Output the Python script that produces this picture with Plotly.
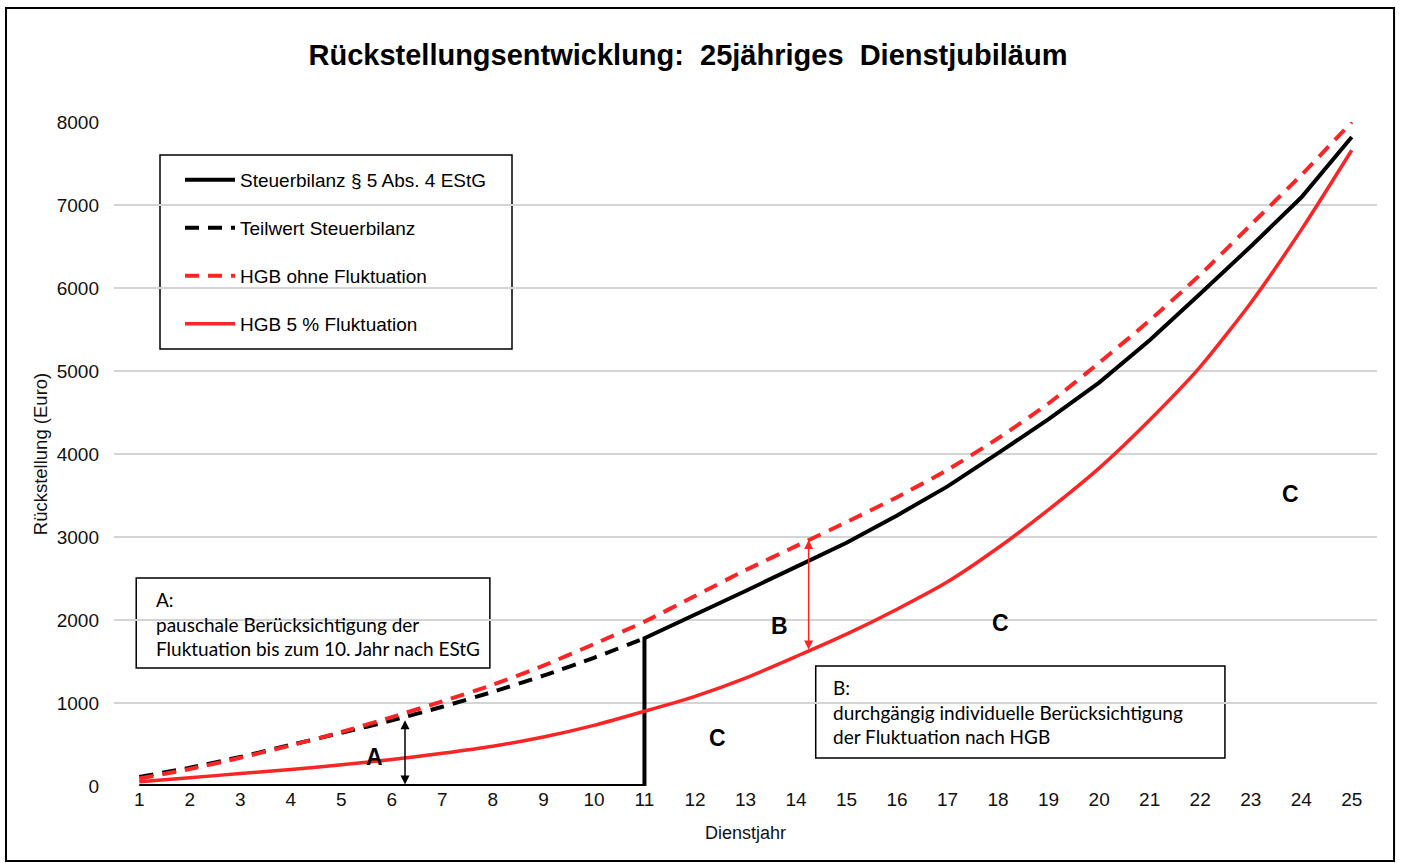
import numpy as np
import plotly.graph_objects as go

years = list(range(1, 26))

# Steuerbilanz § 5 Abs. 4 EStG: 0 until year 11, then values from year 11 to 25
steuer_years = list(range(11, 26))
steuer_values = [1780, 2060, 2350, 2640, 2930, 3260, 3610, 4010, 4420, 4860, 5370, 5930, 6500, 7090, 7820]

# Teilwert Steuerbilanz (years 1..11)
teilwert_years = list(range(1, 12))
teilwert_values = [110, 220, 350, 495, 640, 790, 955, 1135, 1330, 1545, 1780]

# HGB ohne Fluktuation (years 1..25)
hgb_ohne = [90, 205, 340, 490, 650, 830, 1020, 1220, 1450, 1710, 1980, 2290, 2600, 2890, 3180,
            3480, 3810, 4190, 4610, 5100, 5610, 6160, 6760, 7360, 8000]

# HGB 5 % Fluktuation (years 1..25)
hgb_5 = [50, 100, 150, 200, 255, 320, 395, 480, 590, 730, 900, 1080, 1300, 1560, 1830,
         2130, 2460, 2870, 3330, 3830, 4410, 5050, 5820, 6700, 7660]

RED = "#fb2525"
BLACK = "#000000"
FONT = "Liberation Sans, Arial, sans-serif"
BOXFONT = "Lato, Open Sans, sans-serif"

fig = go.Figure()

zero_part_x = [y for y in years if y <= 11]
fig.add_trace(go.Scatter(
    x=zero_part_x + steuer_years,
    y=[0] * len(zero_part_x) + steuer_values,
    mode="lines", name="Steuerbilanz § 5 Abs. 4 EStG",
    line=dict(color=BLACK, width=4), legendgroup="g1", legendrank=1,
))
fig.add_trace(go.Scatter(
    x=teilwert_years, y=teilwert_values, mode="lines", name="Teilwert Steuerbilanz",
    line=dict(color=BLACK, width=4, dash="14px,9px", shape="spline", smoothing=0.6),
    legendgroup="g2", legendrank=2,
))
fig.add_trace(go.Scatter(
    x=years, y=hgb_ohne, mode="lines", name="HGB ohne Fluktuation",
    line=dict(color=RED, width=4, dash="14px,9px", shape="spline", smoothing=0.6),
    legendgroup="g3", legendrank=3,
))
fig.add_trace(go.Scatter(
    x=years, y=hgb_5, mode="lines", name="HGB 5 % Fluktuation",
    line=dict(color=RED, width=3.5, shape="spline", smoothing=0.6),
    legendgroup="g4", legendrank=4,
))

xa = 6.26
a_top = float(np.interp(xa, teilwert_years, teilwert_values))
xb = 14.25
b_top = float(np.interp(xb, years, hgb_ohne))
b_bot = float(np.interp(xb, years, hgb_5))

annotations = [
    dict(x=xa, y=a_top - 40, ax=xa, ay=0, xref="x", yref="y", axref="x", ayref="y",
         text="", showarrow=True, arrowhead=2, arrowside="end+start", arrowsize=1.2,
         arrowwidth=1.5, arrowcolor=BLACK, standoff=0, startstandoff=0),
    dict(x=xb, y=b_top, ax=xb, ay=b_bot, xref="x", yref="y", axref="x", ayref="y",
         text="", showarrow=True, arrowhead=2, arrowside="end+start", arrowsize=1.2,
         arrowwidth=1.5, arrowcolor=RED, standoff=0, startstandoff=0),
]

labels = [("A", 5.66, 349), ("B", 13.68, 1928), ("C", 12.45, 578), ("C", 18.04, 1964), ("C", 23.78, 3518)]
for t, x, y in labels:
    annotations.append(dict(x=x, y=y, xref="x", yref="y", text="<b>%s</b>" % t, showarrow=False,
                            font=dict(family=FONT, size=23, color=BLACK)))

annotations.append(dict(
    x=1.30, y=2506 - 96, xref="x", yref="y", xanchor="left", yanchor="top", align="left",
    text="A:<br>pauschale Berücksichtigung der<br>Fluktuation bis zum 10. Jahr nach EStG",
    showarrow=False, font=dict(family=BOXFONT, size=19, color=BLACK)))
annotations.append(dict(
    x=14.69, y=1446 - 96, xref="x", yref="y", xanchor="left", yanchor="top", align="left",
    text="B:<br>durchgängig individuelle Berücksichtigung<br>der Fluktuation nach HGB",
    showarrow=False, font=dict(family=BOXFONT, size=19, color=BLACK)))


def px_x(p):
    return (p - 114) / 1263


def px_y(p):
    return (786 - p) / 664


shapes = [
    dict(type="rect", xref="x", yref="y", x0=0.94, x1=7.94, y0=1422, y1=2506,
         line=dict(color=BLACK, width=1.5), fillcolor="white", layer="below"),
    dict(type="rect", xref="x", yref="y", x0=14.39, x1=22.49, y0=337, y1=1446,
         line=dict(color=BLACK, width=1.5), fillcolor="white", layer="below"),
    # legend frame
    dict(type="rect", xref="paper", yref="paper", x0=px_x(160), x1=px_x(512), y0=px_y(349), y1=px_y(155),
         line=dict(color=BLACK, width=1.5), fillcolor="white", layer="below"),
    # outer frame
    dict(type="rect", xref="paper", yref="paper", x0=-0.0855, x1=1.0135, y0=-0.113, y1=1.1717,
         line=dict(color=BLACK, width=2)),
]

fig.update_layout(
    width=1401, height=863,
    margin=dict(l=114, r=24, t=122, b=77),
    paper_bgcolor="white", plot_bgcolor="white",
    title=dict(text="<b>Rückstellungsentwicklung:  25jähriges  Dienstjubiläum</b>",
               x=688 / 1401, xref="container", xanchor="center",
               y=1 - 55 / 863, yref="container", yanchor="middle",
               font=dict(family=FONT, size=29, color=BLACK)),
    font=dict(family=FONT, color=BLACK),
    showlegend=True,
    legend=dict(x=px_x(180), y=px_y(161), xanchor="left", yanchor="top",
                bgcolor="rgba(0,0,0,0)", borderwidth=0,
                font=dict(family=FONT, size=19, color=BLACK),
                tracegroupgap=20.3, itemwidth=50, traceorder="grouped"),
    xaxis=dict(range=[0.5, 25.5], tickmode="array", tickvals=years, ticktext=[str(y) for y in years],
               showgrid=False, zeroline=False, showline=False, ticks="",
               tickfont=dict(family=FONT, size=19, color="#111111"),
               title=dict(text="Dienstjahr", font=dict(family=FONT, size=18, color="#111111"), standoff=17)),
    yaxis=dict(range=[0, 8000], dtick=1000, showgrid=True, gridcolor="#d4d4d4", gridwidth=1.5,
               zeroline=False, showline=False, ticks="", ticklabelstandoff=14,
               tickfont=dict(family=FONT, size=19, color="#111111"),
               title=dict(text="Rückstellung (Euro)", font=dict(family=FONT, size=18.5, color="#111111"),
                          standoff=4)),
    annotations=annotations,
    shapes=shapes,
)

fig.write_html("out.html")
